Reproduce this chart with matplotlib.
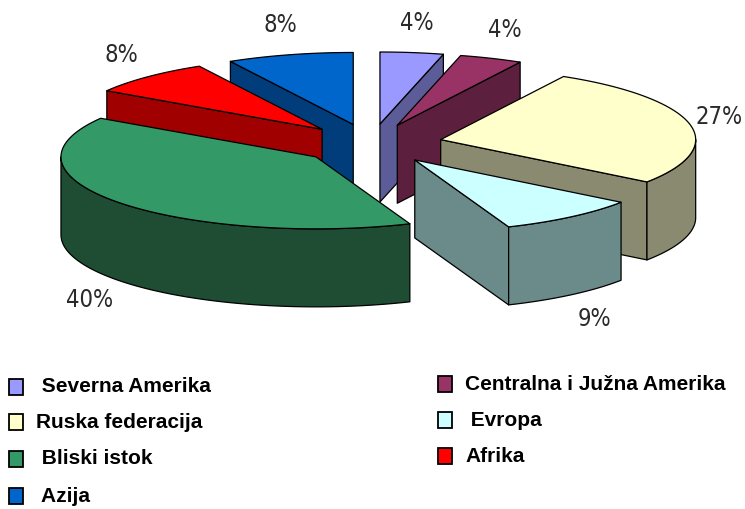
import numpy as np
import matplotlib.pyplot as plt
from matplotlib.patches import Polygon, Rectangle

# Data
regions = ['Severna Amerika', 'Centralna i Južna Amerika', 'Ruska federacija',
           'Evropa', 'Bliski istok', 'Afrika', 'Azija']
shares = [4, 4, 27, 9, 40, 8, 8]
legend_text = [' Severna Amerika', 'Centralna i Južna Amerika', 'Ruska federacija',
               ' Evropa', ' Bliski istok', 'Afrika', ' Azija']

top_colors = ['#9999ff', '#993366', '#ffffcc', '#ccffff', '#339966', '#ff0000', '#0066cc']
side_colors = ['#5c5c99', '#5c1f3d', '#8a8a70', '#6b8a8a', '#1e4d33', '#a00000', '#003d7a']

# pie geometry (pixels)
cx, cy = 371, 144
rx, ry = 255, 72
depth = 78
expl = 0.28

fig = plt.figure(figsize=(7.45, 5.09), dpi=100)
ax = fig.add_axes([0, 0, 1, 1])
ax.set_xlim(0, 745)
ax.set_ylim(509, 0)
ax.axis('off')

fracs = np.array(shares) / np.sum(shares) * 360.0
ends = np.cumsum(fracs)
starts = ends - fracs

def pt(x0, y0, a, r=1.0):
    a = np.radians(a)
    return x0 + r * rx * np.sin(a), y0 - r * ry * np.cos(a)

# back to front
order = np.argsort([-np.cos(np.radians((s + e) / 2)) for s, e in zip(starts, ends)])

for i in order:
    t1, t2 = starts[i], ends[i]
    m = (t1 + t2) / 2
    x0 = cx + expl * rx * np.sin(np.radians(m))
    y0 = cy - expl * ry * np.cos(np.radians(m))
    kw = dict(edgecolor='black', linewidth=0.9, joinstyle='round')

    # cut faces
    if np.sin(np.radians(t1)) < 0:
        px, py = pt(x0, y0, t1)
        ax.add_patch(Polygon([(x0, y0), (px, py), (px, py + depth), (x0, y0 + depth)],
                             facecolor=side_colors[i], **kw))
    if np.sin(np.radians(t2)) > 0:
        px, py = pt(x0, y0, t2)
        ax.add_patch(Polygon([(x0, y0), (px, py), (px, py + depth), (x0, y0 + depth)],
                             facecolor=side_colors[i], **kw))

    # outer side
    a1, a2 = max(t1, 90), min(t2, 270)
    if a2 > a1:
        aa = np.linspace(a1, a2, 80)
        xs, ys = pt(x0, y0, aa)
        side = list(zip(xs, ys)) + list(zip(xs[::-1], ys[::-1] + depth))
        ax.add_patch(Polygon(side, facecolor=side_colors[i], **kw))

    # top face
    aa = np.linspace(t1, t2, 120)
    xs, ys = pt(x0, y0, aa)
    ax.add_patch(Polygon([(x0, y0)] + list(zip(xs, ys)), facecolor=top_colors[i], **kw))

    # percent label
    lx = x0 + 1.15 * rx * np.sin(np.radians(m))
    lx = min(lx, 719)
    ly = y0 - 1.42 * ry * np.cos(np.radians(m))
    if np.cos(np.radians(m)) < 0:
        ly += depth
    ax.text(lx, ly, f'{shares[i]}%', ha='center', va='center', fontsize=17,
            family='DejaVu Sans', fontstretch='condensed', color='#2a2a2a')

# legend
leg_x = [9, 9, 9, 9, 438, 438, 438]
leg_y = [387, 422, 459, 496, 384, 420, 456]
leg_idx = [0, 2, 4, 6, 1, 3, 5]
for k, i in enumerate(leg_idx):
    ax.add_patch(Rectangle((leg_x[k], leg_y[k] - 8), 14, 16, facecolor=top_colors[i],
                           edgecolor='black', linewidth=1.3))
    ax.text(leg_x[k] + 27, leg_y[k], legend_text[i], ha='left', va='center', fontsize=15,
            fontweight='bold', family=['Liberation Sans', 'DejaVu Sans'])

fig.savefig('out.png', dpi=100)
